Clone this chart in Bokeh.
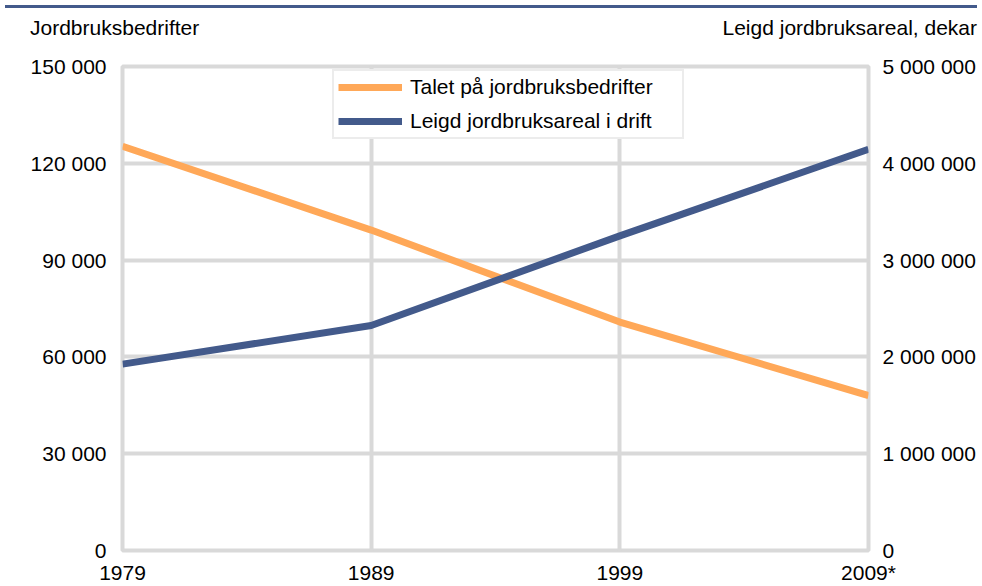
from bokeh.plotting import figure
from bokeh.models import Range1d, LinearAxis, FixedTicker, Legend, LegendItem, Div
from bokeh.layouts import column
from bokeh.embed import file_html
from bokeh.resources import INLINE

# ---- data ----
years = [1979, 1989, 1999, 2009]
year_labels = ["1979", "1989", "1999", "2009*"]
farms = [125300, 99300, 70800, 48000]
leased_area = [1925000, 2325000, 3250000, 4145000]
series_names = ["Talet på jordbruksbedrifter", "Leigd jordbruksareal i drift"]
left_ticks = [0, 30000, 60000, 90000, 120000, 150000]
left_tick_labels = ["0", "30 000", "60 000", "90 000", "120 000", "150 000"]
right_ticks = [0, 1000000, 2000000, 3000000, 4000000, 5000000]
right_tick_labels = ["0", "1 000 000", "2 000 000", "3 000 000", "4 000 000", "5 000 000"]
left_title = "Jordbruksbedrifter"
right_title = "Leigd jordbruksareal, dekar"

# ---- style ----
FONT = "Liberation Sans"
FS = "21px"
ORANGE = "#FFA858"
BLUE = "#435A8B"
GRID = "#D9D9D9"
TEXT = "#000000"

p = figure(width=982, height=538, output_backend="svg", toolbar_location=None,
           x_range=Range1d(years[0], years[-1]),
           y_range=Range1d(left_ticks[0], left_ticks[-1]),
           min_border_left=122, min_border_right=114,
           min_border_top=18, min_border_bottom=33)
p.extra_y_ranges = {"right": Range1d(right_ticks[0], right_ticks[-1])}
p.background_fill_color = "white"
p.border_fill_color = "white"
p.outline_line_color = GRID
p.outline_line_width = 4

xax = p.xaxis[0]
xax.ticker = FixedTicker(ticks=years)
xax.major_label_overrides = {t: s for t, s in zip(years, year_labels)}
xax.major_label_standoff = 10
p.xgrid.ticker = FixedTicker(ticks=years)
p.xgrid.grid_line_color = GRID
p.xgrid.grid_line_width = 4

p.ygrid.ticker = FixedTicker(ticks=left_ticks)
p.ygrid.grid_line_color = GRID
p.ygrid.grid_line_width = 4

lax = p.yaxis[0]
lax.ticker = FixedTicker(ticks=left_ticks)
lax.major_label_overrides = {t: s for t, s in zip(left_ticks, left_tick_labels)}
lax.major_label_standoff = 16

rax = LinearAxis(y_range_name="right", ticker=FixedTicker(ticks=right_ticks),
                 major_label_overrides={t: s for t, s in zip(right_ticks, right_tick_labels)},
                 major_label_standoff=14)
p.add_layout(rax, "right")

for ax in (xax, lax, rax):
    ax.axis_line_color = None
    ax.major_tick_line_color = None
    ax.minor_tick_line_color = None
    ax.major_tick_out = 0
    ax.major_tick_in = 0
    ax.major_label_text_font = FONT
    ax.major_label_text_font_size = FS
    ax.major_label_text_color = TEXT

r1 = p.line(years, farms, line_color=ORANGE, line_width=7, line_join="round")
r2 = p.line(years, leased_area, y_range_name="right", line_color=BLUE,
            line_width=7, line_join="round")

legend = Legend(items=[LegendItem(label=series_names[0], renderers=[r1]),
                       LegendItem(label=series_names[1], renderers=[r2])],
                location=(210, 411), orientation="vertical",
                padding=4, spacing=10, margin=0,
                glyph_width=64, glyph_height=24, label_height=24,
                label_width=268, label_standoff=8,
                label_text_font=FONT, label_text_font_size=FS,
                label_text_color=TEXT,
                border_line_color=GRID, border_line_width=2,
                background_fill_color="white", background_fill_alpha=1.0)
p.add_layout(legend)

# header: thin rule + the two axis titles
header_html = (
    '<div style="position:relative;width:982px;height:48px;'
    f'font-family:\'{FONT}\';font-size:{FS};line-height:21px;color:{TEXT};white-space:nowrap;">'
    f'<div style="position:absolute;left:5px;top:5px;width:972px;height:3px;background:{BLUE};"></div>'
    f'<span style="position:absolute;left:30px;top:17px;">{left_title}</span>'
    f'<span style="position:absolute;right:5px;top:17px;">{right_title}</span>'
    '</div>'
)
header = Div(text=header_html, width=982, height=48, margin=0)

layout = column(header, p, spacing=0)

with open("out.html", "w") as f:
    f.write(file_html(layout, INLINE, "chart"))
